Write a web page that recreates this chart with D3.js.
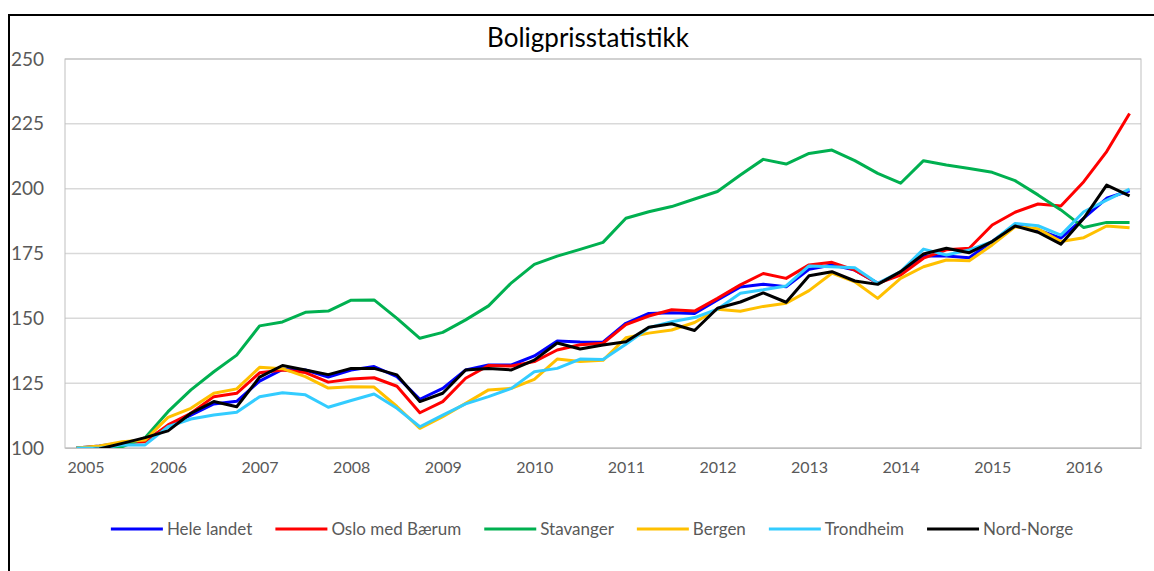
<!DOCTYPE html>
<html>
<head>
<meta charset="utf-8">
<script src="https://cdn.jsdelivr.net/npm/d3@7"></script>
<style>
  html, body { margin: 0; padding: 0; background: #fff; overflow: hidden; }
  text { font-family: 'Lato', 'Open Sans', sans-serif; }
</style>
</head>
<body>
<div class="chart"></div>
<script>
const years = [2005, 2006, 2007, 2008, 2009, 2010, 2011, 2012, 2013, 2014, 2015, 2016];
const quarters = years
  .flatMap((y) => ['K1', 'K2', 'K3', 'K4'].map((q) => `${y}${q}`))
  .slice(0, 47);
const yTicks = [100, 125, 150, 175, 200, 225, 250];

const heleLandet = [100, 100.8, 102, 102.8, 108.5, 112.7, 117, 118, 125.8, 130.3, 130.1, 127.4,
  130.1, 131.4, 127.5, 118.8, 123, 130.1, 132, 132, 135.5, 141.3, 140.9, 140.8,
  148.1, 151.9, 152.2, 151.9, 157.1, 162.1, 163.1, 162.2, 168.9, 170.6, 168.6, 163.5,
  167.4, 174, 174, 173.4, 179.6, 186, 184.1, 180.9, 188.6, 196.3, 199.2];
const osloBaerum = [100, 100.5, 102, 102.4, 108.9, 113.4, 119.8, 121.1, 129, 130.1, 129.1, 125.4,
  126.6, 127.1, 123.8, 113.6, 117.9, 126.9, 131.8, 131.6, 133.3, 137.8, 139.8, 140.4,
  147.6, 150.9, 153.3, 152.8, 157.7, 162.9, 167.3, 165.4, 170.6, 171.6, 168.6, 163.5,
  166.7, 173.2, 176.4, 177, 186, 190.9, 194.1, 193.3, 202.7, 214.3, 229];
const stavanger = [100, 99.2, 100.5, 104, 114, 122.4, 129.4, 135.8, 147.1, 148.6, 152.3, 152.8,
  157, 157.1, 150, 142.3, 144.6, 149.4, 154.8, 163.7, 170.8, 174, 176.6, 179.3,
  188.6, 191.1, 193.1, 196, 198.9, 205.3, 211.3, 209.5, 213.6, 214.9, 210.8, 205.9,
  202.1, 210.8, 209.1, 207.8, 206.3, 203.1, 197.6, 191.8, 185, 187, 187];
const bergen = [100, 100.8, 102.4, 103.1, 111.8, 115.3, 121.1, 122.8, 131.1, 130.6, 127.5, 123.1,
  123.6, 123.5, 116, 107.6, 112.1, 117.2, 122.4, 123, 126.5, 134.3, 133.4, 133.8,
  142.5, 144.3, 145.5, 148.4, 153.5, 152.7, 154.6, 155.8, 160.7, 167.4, 164.1, 157.7,
  165.4, 169.9, 172.5, 172.2, 178.3, 185.3, 184.5, 179.6, 181.1, 185.6, 184.9];
const trondheim = [100, 99.9, 101.2, 101.2, 108.2, 111.2, 112.7, 113.8, 119.8, 121.3, 120.5, 115.7,
  118.3, 120.8, 115.3, 108.2, 112.7, 117, 119.8, 123, 129.4, 130.7, 134.3, 134.1,
  140, 146.4, 148.7, 150.3, 153.5, 159.7, 161, 162.5, 170.2, 169.9, 169.5, 163.5,
  168, 176.7, 174.4, 176.4, 179.6, 186.6, 185.7, 182.1, 191.1, 195.6, 199.8];
const nordNorge = [99, 99.6, 101.8, 104, 106.6, 113.4, 117.9, 115.9, 127.3, 131.8, 130.1, 128.3,
  130.7, 130.7, 128.2, 117.9, 121.1, 130.1, 130.7, 130.1, 133.9, 140.5, 138.2, 139.7,
  141, 146.6, 147.9, 145.3, 153.9, 156.3, 159.8, 156.2, 166.4, 168, 164.4, 163.1,
  168, 174.8, 177, 175.3, 179.6, 185.6, 183.2, 178.6, 188.6, 201.4, 197.2];

const seriesNames = ['Hele landet', 'Oslo med Bærum', 'Stavanger', 'Bergen', 'Trondheim', 'Nord-Norge'];
const seriesValues = [heleLandet, osloBaerum, stavanger, bergen, trondheim, nordNorge];
const seriesColors = ['#0000ff', '#ff0000', '#00b050', '#ffc000', '#33ccff', '#000000'];

const width = 1154;
const height = 571;
const plot = { left: 65, top: 59, right: 1141, bottom: 448 };

const svg = d3
  .select('.chart')
  .append('svg')
  .attr('width', width)
  .attr('height', height);

// outer chart frame (runs off the right and bottom edges)
svg
  .append('rect')
  .attr('x', 9)
  .attr('y', 15)
  .attr('width', width + 20)
  .attr('height', height + 20)
  .attr('fill', '#fff')
  .attr('stroke', '#000')
  .attr('stroke-width', 2);

svg
  .append('text')
  .attr('x', 588)
  .attr('y', 47)
  .attr('text-anchor', 'middle')
  .style('font-size', '26px')
  .style('fill', '#000')
  .text('Boligprisstatistikk');

const xScale = d3
  .scalePoint()
  .domain(quarters)
  .range([plot.left, plot.right])
  .padding(0.5);

const yScale = d3
  .scaleLinear()
  .domain([100, 250])
  .range([plot.bottom, plot.top]);

// gridlines
svg
  .append('g')
  .selectAll('line')
  .data(yTicks)
  .enter()
  .append('line')
  .attr('x1', plot.left)
  .attr('x2', plot.right)
  .attr('y1', (d) => yScale(d))
  .attr('y2', (d) => yScale(d))
  .attr('stroke', '#d9d9d9')
  .attr('stroke-width', 1.5);

svg
  .append('rect')
  .attr('x', plot.left)
  .attr('y', plot.top)
  .attr('width', plot.right - plot.left)
  .attr('height', plot.bottom - plot.top)
  .attr('fill', 'none')
  .attr('stroke', '#bfbfbf')
  .attr('stroke-width', 1);

const yAxis = d3.axisLeft(yScale).tickValues(yTicks).tickSize(0).tickPadding(21);
const yAxisGroup = svg
  .append('g')
  .attr('transform', `translate(${plot.left}, 0)`)
  .call(yAxis);
yAxisGroup.select('.domain').remove();
yAxisGroup
  .selectAll('text')
  .style('font-size', '19px')
  .style('font-family', 'Lato, sans-serif')
  .attr('fill', '#595959');

const xAxis = d3
  .axisBottom(xScale)
  .tickValues(years.map((y) => `${y}K1`))
  .tickFormat((d) => d.slice(0, 4))
  .tickSize(0)
  .tickPadding(14);
const xAxisGroup = svg
  .append('g')
  .attr('transform', `translate(0, ${plot.bottom})`)
  .call(xAxis);
xAxisGroup.select('.domain').attr('stroke', '#bfbfbf');
xAxisGroup
  .selectAll('text')
  .style('font-size', '16px')
  .style('font-family', 'Lato, sans-serif')
  .attr('fill', '#595959')
  .each(function (d) {
    // keep labels inside the plot area, like the spreadsheet does
    const half = this.getComputedTextLength() / 2;
    const x = xScale(d);
    if (x - half < plot.left) d3.select(this).attr('dx', plot.left - (x - half) + 2);
  });

svg
  .append('clipPath')
  .attr('id', 'plot-clip')
  .append('rect')
  .attr('x', plot.left)
  .attr('y', plot.top - 5)
  .attr('width', plot.right - plot.left)
  .attr('height', plot.bottom - plot.top + 5);

const line = d3
  .line()
  .x((d, i) => xScale(quarters[i]))
  .y((d) => yScale(d));

svg
  .append('g')
  .attr('clip-path', 'url(#plot-clip)')
  .selectAll('path')
  .data(seriesValues)
  .enter()
  .append('path')
  .attr('d', (d) => line(d))
  .attr('fill', 'none')
  .attr('stroke', (d, i) => seriesColors[i])
  .attr('stroke-width', 3)
  .attr('stroke-linejoin', 'round');

// legend, laid out left to right and centred
const legend = svg.append('g');
const items = legend
  .selectAll('g')
  .data(seriesNames)
  .enter()
  .append('g');

items
  .append('line')
  .attr('x1', 0)
  .attr('x2', 52)
  .attr('y1', 0)
  .attr('y2', 0)
  .attr('stroke', (d, i) => seriesColors[i])
  .attr('stroke-width', 3);

items
  .append('text')
  .attr('x', 56)
  .attr('y', 0)
  .attr('dy', '0.35em')
  .style('font-size', '17px')
  .attr('fill', '#595959')
  .text((d) => d);

let cursor = 0;
items.each(function () {
  const w = 56 + d3.select(this).select('text').node().getComputedTextLength();
  d3.select(this).attr('transform', `translate(${cursor}, 0)`);
  cursor += w + 23;
});
const legendWidth = cursor - 23;
legend.attr('transform', `translate(${592 - legendWidth / 2}, 529)`);
</script>
</body>
</html>
